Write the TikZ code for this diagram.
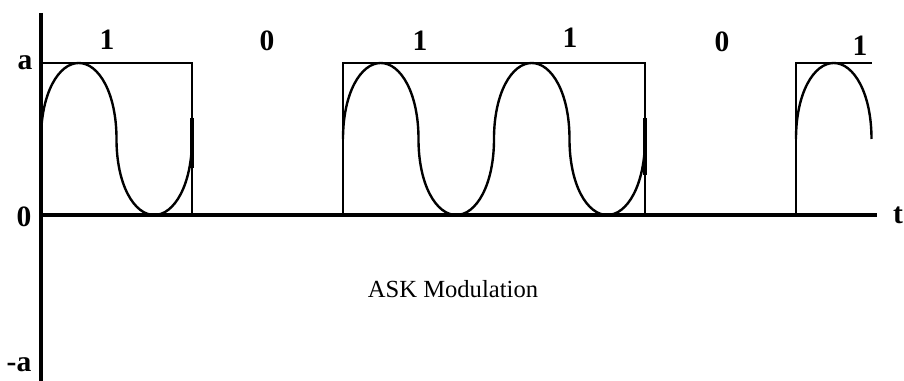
\documentclass[tikz,border=0pt]{standalone}
\usepackage{tikz}
\usepackage{fontspec}
\setmainfont{Liberation Serif}

\begin{document}
\begin{tikzpicture}[
  x=0.025cm, y=-0.025cm,
  axis/.style={line width=3.5pt},
  env/.style={line width=1.3pt},
  wave/.style={line width=1.7pt},
  stub/.style={line width=2.8pt},
  bit/.style={font=\fontsize{21}{25}\selectfont\bfseries, inner sep=0pt},
  lbl/.style={font=\fontsize{21}{25}\selectfont\bfseries, inner sep=0pt},
  title/.style={font=\fontsize{17.5}{21}\selectfont, inner sep=0pt},
]
\useasboundingbox (0,0) rectangle (904,381);

% axes
\coordinate (O) at (41,215);
\coordinate (ytop) at (41,13);
\coordinate (ybot) at (41,381);
\coordinate (xend) at (877,215);
\draw[axis] (ytop) -- (ybot);
\draw[axis] (O) -- (xend);

\node[lbl] (la) at (25,63) {a};
\node[lbl] (l0) at (24,217) {0};
\node[lbl] (lma) at (19,365) {-a};
\node[lbl] (lt) at (898,215) {t};

% bits
\node[bit] (b1) at (107,40) {1};
\node[bit] (b2) at (267,41) {0};
\node[bit] (b3) at (420,41) {1};
\node[bit] (b4) at (570,38) {1};
\node[bit] (b5) at (722,42) {0};
\node[bit] (b6) at (860,46) {1};

% envelope
\draw[env] (41,63) -- (192,63) -- (192,215);
\draw[env] (343,215) -- (343,63) -- (645,63) -- (645,215);
\draw[env] (796,215) -- (796,63) -- (872,63);

% carrier
\foreach \s in {41,343,494}
  \draw[wave] (\s,139)
    .. controls +(0,-46) and +(-20,0) .. ++(37.75,-76)
    .. controls +(20,0) and +(0,-46) .. ++(37.75,76)
    .. controls +(0,46) and +(-20,0) .. ++(37.75,76)
    .. controls +(20,0) and +(0,46) .. ++(37.75,-76);
\draw[wave] (796,139)
    .. controls +(0,-46) and +(-20,0) .. ++(37.75,-76)
    .. controls +(20,0) and +(0,-46) .. ++(37.75,76);
\draw[stub] (192,118) -- (192,168);
\draw[stub] (645,118) -- (645,175);

\node[title] (cap) at (453,289) {ASK Modulation};
\end{tikzpicture}
\end{document}
